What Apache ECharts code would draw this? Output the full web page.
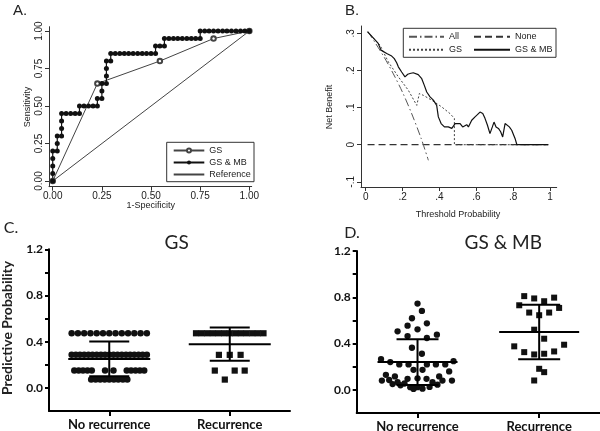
<!DOCTYPE html>
<html><head><meta charset="utf-8">
<script src="https://cdn.jsdelivr.net/npm/echarts@6/dist/echarts.min.js"></script>
<style>html,body{margin:0;padding:0;background:#fff}#c{width:600px;height:431px}</style>
</head><body><div id="c"></div>
<script>
// ---------- Panel A: ROC ----------
const aTicks = [0, 0.25, 0.5, 0.75, 1];
const rocRefX = [0, 1];
const rocRefY = [0, 1];
const rocGsX = [0, 0.227, 0.545, 0.818, 1];
const rocGsY = [0, 0.65, 0.80, 0.95, 1];
const rocMbX = [0,0,0,0,0,0.023,0.023,0.023,0.045,0.045,0.045,0.045,0.068,0.091,0.114,0.136,0.136,0.159,0.182,0.205,0.227,0.227,0.25,0.25,0.25,0.273,0.273,0.273,0.273,0.295,0.295,0.318,0.341,0.364,0.386,0.409,0.432,0.455,0.477,0.5,0.523,0.523,0.545,0.568,0.568,0.591,0.614,0.636,0.659,0.682,0.705,0.727,0.75,0.75,0.773,0.795,0.818,0.841,0.864,0.886,0.909,0.932,0.955,0.977,1];
const rocMbY = [0,0.05,0.1,0.15,0.2,0.2,0.25,0.3,0.3,0.35,0.4,0.45,0.45,0.45,0.45,0.45,0.5,0.5,0.5,0.5,0.5,0.55,0.55,0.6,0.65,0.65,0.7,0.75,0.8,0.8,0.85,0.85,0.85,0.85,0.85,0.85,0.85,0.85,0.85,0.85,0.85,0.9,0.9,0.9,0.95,0.95,0.95,0.95,0.95,0.95,0.95,0.95,0.95,1,1,1,1,1,1,1,1,1,1,1,1];

// ---------- Panel B: decision curve ----------
const bXTicks = [0, 0.2, 0.4, 0.6, 0.8, 1];
const bYTicks = [-0.1, 0, 0.1, 0.2, 0.3];
const bAllT = [0.01,0.05,0.1,0.15,0.2,0.25,0.3,0.34];
const bAllNB = [0.306,0.276,0.236,0.191,0.141,0.083,0.018,-0.042];
const bNoneT = [0.01, 0.99];
const bNoneNB = [0, 0];
const bGsT = [0.01,0.078,0.123,0.177,0.231,0.277,0.291,0.313,0.358,0.412,0.457,0.481,0.481,0.99];
const bGsNB = [0.304,0.268,0.223,0.183,0.147,0.106,0.138,0.133,0.12,0.102,0.084,0.071,0,0];
const bMbT = [0.011,0.068,0.083,0.114,0.141,0.155,0.168,0.177,0.195,0.213,0.228,0.24,0.258,0.285,0.304,0.318,0.331,0.349,0.367,0.385,0.394,0.409,0.427,0.448,0.467,0.485,0.49,0.512,0.526,0.548,0.557,0.575,0.593,0.606,0.62,0.635,0.647,0.66,0.674,0.687,0.696,0.707,0.72,0.732,0.743,0.756,0.765,0.779,0.792,0.81,0.82,0.99];
const bMbNB = [0.304,0.273,0.255,0.246,0.239,0.232,0.221,0.21,0.196,0.183,0.19,0.192,0.194,0.189,0.178,0.16,0.142,0.129,0.12,0.106,0.075,0.057,0.048,0.048,0.044,0.057,0.052,0.057,0.048,0.054,0.048,0.066,0.075,0.081,0.088,0.084,0.071,0.053,0.03,0.048,0.061,0.048,0.044,0.035,0.021,0.057,0.061,0.048,0.039,0.017,0,0];

// ---------- Panels C & D: dot plots ----------
const groups = ['No recurrence', 'Recurrence'];
const cdYTicks = [0, 0.2, 0.4, 0.6, 0.8, 1, 1.2];
const cdYLabels = [0, 0.4, 0.8, 1.2];

const cNoVal = [0.473,0.473,0.473,0.473,0.473,0.473,0.473,0.473,0.473,0.473,0.473,0.473,0.473,
  0.286,0.286,0.286,0.286,0.286,0.286,0.286,0.286,0.286,0.286,0.286,0.286,0.286,0.286,0.286,0.286,0.286,0.286,0.286,
  0.15,0.15,0.15,0.15,0.15,0.15,0.15,0.15,0.15,0.15,0.15,0.15,
  0.072,0.072,0.072,0.072,0.072,0.072,0.072,0.072,0.072];
const cNoJit = [-0.312,-0.26,-0.208,-0.156,-0.104,-0.052,0,0.052,0.104,0.156,0.208,0.26,0.312,
  -0.312,-0.277,-0.243,-0.208,-0.173,-0.139,-0.104,-0.069,-0.035,0,0.035,0.069,0.104,0.139,0.173,0.208,0.243,0.277,0.312,
  -0.29,-0.254,-0.218,-0.181,-0.145,-0.035,0.035,0.145,0.181,0.218,0.254,0.29,
  -0.15,-0.113,-0.075,-0.038,0,0.038,0.075,0.113,0.15];
const cRecVal = [0.473,0.473,0.473,0.473,0.473,0.473,0.473,0.473,0.473,0.473,0.473,0.473,0.473,
  0.286,0.286,0.286,0.15,0.15,0.15,0.072];
const cRecJit = [-0.28,-0.233,-0.187,-0.14,-0.093,-0.047,0,0.047,0.093,0.14,0.187,0.233,0.28,
  -0.09,0,0.09,-0.124,0.041,0.124,-0.041];
const cMean = [0.251, 0.378];
const cSd = [0.15, 0.144];

const dNoVal = [0.746,0.682,0.619,0.555,0.575,0.506,0.523,0.465,0.448,0.477,0.364,0.312,0.266,0.24,0.22,0.22,0.22,0.22,0.22,0.248,0.173,0.173,0.159,0.13,0.116,0.116,0.095,0.1,0.095,0.08,0.085,0.066,0.055,0.066,0.08,0.08,0.023,0.023,0.04,0.008,0.01,0.025,0.05,0.045];
const dNoJit = [0,0.036,-0.046,-0.082,0.077,-0.164,0,-0.082,0.077,0.159,-0.046,0.036,-0.30,-0.224,-0.15,-0.074,0.077,0.151,0.228,0.296,-0.033,0.041,0.26,-0.26,-0.186,0.178,-0.082,0,0.074,-0.293,-0.233,-0.164,-0.107,0.123,0.205,0.283,-0.06,0,-0.14,-0.033,0.041,0.099,-0.205,0.164];
const dRecVal = [0.81,0.79,0.766,0.797,0.731,0.708,0.668,0.645,0.668,0.52,0.442,0.376,0.39,0.326,0.306,0.312,0.332,0.182,0.153,0.081];
const dRecJit = [-0.123,-0.041,0.041,0.123,-0.164,0.164,-0.082,0,0.082,-0.041,0.041,-0.205,0.205,-0.123,-0.041,0.041,0.123,0,0.041,-0.041];
const dMean = [0.24, 0.50];
const dSd = [0.197, 0.236];

// ---------- helpers ----------
const zip = (xs, ys) => xs.map((x, i) => [x, ys[i]]);
const dots = (g, jit, vals) => vals.map((v, i) => [g + jit[i], v]);
const SANS = 'Liberation Sans, Arial, sans-serif';
const CAL = 'Lato, "Open Sans", sans-serif';
const AX = '#333';

function statAxisX(grid, min, max, ticks, fmt) {
  return { gridIndex: grid, type: 'value', min, max,
    axisLine: { onZero: false, lineStyle: { color: AX, width: 1 } },
    axisTick: { customValues: ticks, length: 4, lineStyle: { color: AX, width: 1 } },
    axisLabel: { customValues: ticks, formatter: fmt, fontFamily: SANS, fontSize: 10, color: '#222', margin: 5 },
    splitLine: { show: false } };
}
function statAxisY(grid, min, max, ticks, fmt) {
  return { gridIndex: grid, type: 'value', min, max,
    axisLine: { show: true, onZero: false, lineStyle: { color: AX, width: 1 } },
    axisTick: { show: true, customValues: ticks, length: 4, lineStyle: { color: AX, width: 1 } },
    axisLabel: { customValues: ticks, formatter: fmt, rotate: 90, fontFamily: SANS, fontSize: 10, color: '#222', margin: 5 },
    splitLine: { show: false } };
}
function dotAxisX(grid) {
  return { gridIndex: grid, type: 'value', min: 0.5, max: 2.5,
    axisLine: { onZero: false, lineStyle: { color: '#000', width: 2 } },
    axisTick: { customValues: [1, 2], length: 5, lineStyle: { color: '#000', width: 2 } },
    axisLabel: { customValues: [1, 2], formatter: v => groups[Math.round(v) - 1], fontFamily: CAL, fontWeight: 'bold', fontSize: 13, color: '#111', margin: 7 },
    splitLine: { show: false } };
}
function dotAxisY(grid) {
  return { gridIndex: grid, type: 'value', min: -0.2, max: 1.2,
    axisLine: { show: true, onZero: false, lineStyle: { color: '#000', width: 2 } },
    axisTick: { show: true, customValues: cdYTicks, length: 4, lineStyle: { color: '#000', width: 2 } },
    axisLabel: { customValues: cdYLabels, formatter: v => v.toFixed(1), fontFamily: CAL, fontWeight: 'bold', fontSize: 12, color: '#111', margin: 6 },
    splitLine: { show: false } };
}
function errRender(halfMean, halfCap) {
  return function (params, api) {
    const x = api.value(0), m = api.value(1), s = api.value(2);
    const pm = api.coord([x, m]), pt = api.coord([x, m + s]), pb = api.coord([x, m - s]);
    const st = { stroke: '#000', lineWidth: 2, fill: null };
    return { type: 'group', children: [
      { type: 'line', shape: { x1: pm[0] - halfMean, y1: pm[1], x2: pm[0] + halfMean, y2: pm[1] }, style: st },
      { type: 'line', shape: { x1: pt[0], y1: pt[1], x2: pb[0], y2: pb[1] }, style: st },
      { type: 'line', shape: { x1: pt[0] - halfCap, y1: pt[1], x2: pt[0] + halfCap, y2: pt[1] }, style: st },
      { type: 'line', shape: { x1: pb[0] - halfCap, y1: pb[1], x2: pb[0] + halfCap, y2: pb[1] }, style: st }
    ] };
  };
}
function txt(text, x, y, font, opts) {
  return Object.assign({ type: 'text', x, y, silent: true,
    style: { text, font, fill: '#222', textAlign: 'center', textVerticalAlign: 'middle' } }, opts || {});
}
const noMark = name => ({ name, itemStyle: { opacity: 0 } });

const chart = echarts.init(document.getElementById('c'), null, { renderer: 'canvas' });
chart.setOption({
  animation: false,
  backgroundColor: '#fff',
  grid: [
    { left: 49, right: 348.3, top: 26.7, bottom: 244.3, outerBoundsMode: 'none' },
    { left: 361, right: 43.3, top: 26, bottom: 244, outerBoundsMode: 'none' },
    { left: 49, right: 310, top: 249.3, bottom: 20, outerBoundsMode: 'none' },
    { left: 356.7, right: 0, top: 251, bottom: 18, outerBoundsMode: 'none' }
  ],
  xAxis: [
    statAxisX(0, -0.019, 1.012, aTicks, v => v.toFixed(2)),
    statAxisX(1, -0.0255, 1.036, bXTicks, v => (v === 0 ? '0' : v === 1 ? '1' : v.toFixed(1).replace('0.', '.'))),
    dotAxisX(2),
    dotAxisX(3)
  ],
  yAxis: [
    statAxisY(0, -0.038, 1.029, aTicks, v => v.toFixed(2)),
    statAxisY(1, -0.114, 0.32, bYTicks, v => (v === 0 ? '0' : v.toFixed(1).replace('0.', '.'))),
    dotAxisY(2),
    dotAxisY(3)
  ],
  legend: [
    { left: 172.7, top: 146, orient: 'vertical', padding: 0, itemWidth: 30.6, itemHeight: 5, itemGap: 3,
      data: ['GS', 'GS & MB', noMark('Reference')], selectedMode: false,
      textStyle: { fontFamily: SANS, fontSize: 9, color: '#222' } },
    { left: 408, top: 32.2, orient: 'vertical', padding: 0, itemWidth: 35, itemHeight: 8, itemGap: 4,
      data: [noMark('All'), noMark('GS (B)')], selectedMode: false, formatter: n => n.replace(' (B)', ''),
      textStyle: { fontFamily: SANS, fontSize: 9, color: '#222' } },
    { left: 473, top: 32.2, orient: 'vertical', padding: 0, itemWidth: 36, itemHeight: 8, itemGap: 4,
      data: [noMark('None'), noMark('GS & MB (B)')], selectedMode: false, formatter: n => n.replace(' (B)', ''),
      textStyle: { fontFamily: SANS, fontSize: 9, color: '#222' } }
  ],
  series: [
    // Panel A
    { name: 'Reference', type: 'line', xAxisIndex: 0, yAxisIndex: 0, data: zip(rocRefX, rocRefY), symbol: 'none',
      lineStyle: { color: '#444', width: 1 }, itemStyle: { color: '#444', opacity: 0 } },
    { name: 'GS', type: 'line', xAxisIndex: 0, yAxisIndex: 0, data: zip(rocGsX, rocGsY), symbol: 'emptyCircle', symbolSize: 4.5,
      lineStyle: { color: '#444', width: 1 }, itemStyle: { color: '#444', borderWidth: 1 } },
    { name: 'GS & MB', type: 'line', xAxisIndex: 0, yAxisIndex: 0, data: zip(rocMbX, rocMbY), symbol: 'circle', symbolSize: 5,
      lineStyle: { color: '#111', width: 1.2 }, itemStyle: { color: '#111' } },
    // Panel B
    { name: 'None', type: 'line', xAxisIndex: 1, yAxisIndex: 1, data: zip(bNoneT, bNoneNB), symbol: 'none',
      lineStyle: { color: '#333', width: 1.2, type: [7, 4] }, itemStyle: { color: '#333', opacity: 0 } },
    { name: 'All', type: 'line', xAxisIndex: 1, yAxisIndex: 1, data: zip(bAllT, bAllNB), symbol: 'none', smooth: 0.3,
      lineStyle: { color: '#555', width: 1, type: [8, 3, 1.5, 3] }, itemStyle: { color: '#555', opacity: 0 } },
    { name: 'GS (B)', type: 'line', xAxisIndex: 1, yAxisIndex: 1, data: zip(bGsT, bGsNB), symbol: 'none',
      lineStyle: { color: '#444', width: 1, type: [2, 2] }, itemStyle: { color: '#444', opacity: 0 } },
    { name: 'GS & MB (B)', type: 'line', xAxisIndex: 1, yAxisIndex: 1, data: zip(bMbT, bMbNB), symbol: 'none',
      lineStyle: { color: '#111', width: 1.2 }, itemStyle: { color: '#111', opacity: 0 } },
    // Panel C
    { type: 'scatter', xAxisIndex: 2, yAxisIndex: 2, data: dots(1, cNoJit, cNoVal), symbol: 'circle', symbolSize: 6.5, itemStyle: { color: '#111', opacity: 1 } },
    { type: 'scatter', xAxisIndex: 2, yAxisIndex: 2, data: dots(2, cRecJit, cRecVal), symbol: 'rect', symbolSize: 6.2, itemStyle: { color: '#111', opacity: 1 } },
    { type: 'custom', xAxisIndex: 2, yAxisIndex: 2, data: [[1, cMean[0], cSd[0]], [2, cMean[1], cSd[1]]],
      encode: { x: 0, y: 1 }, renderItem: errRender(41, 20), z: 5 },
    // Panel D
    { type: 'scatter', xAxisIndex: 3, yAxisIndex: 3, data: dots(1, dNoJit, dNoVal), symbol: 'circle', symbolSize: 6.3, itemStyle: { color: '#111', opacity: 1 } },
    { type: 'scatter', xAxisIndex: 3, yAxisIndex: 3, data: dots(2, dRecJit, dRecVal), symbol: 'rect', symbolSize: 6, itemStyle: { color: '#111', opacity: 1 } },
    { type: 'custom', xAxisIndex: 3, yAxisIndex: 3, data: [[1, dMean[0], dSd[0]], [2, dMean[1], dSd[1]]],
      encode: { x: 0, y: 1 }, renderItem: errRender(40, 21), z: 5 }
  ],
  graphic: [
    { type: 'rect', silent: true, shape: { x: 166.7, y: 142.3, width: 87.3, height: 39.4 }, style: { fill: null, stroke: '#333', lineWidth: 1 } },
    { type: 'rect', silent: true, shape: { x: 403.3, y: 28.3, width: 152.7, height: 29 }, style: { fill: null, stroke: '#333', lineWidth: 1 } },
    txt('A.', 20, 11, '15px ' + SANS),
    txt('B.', 352, 11, '15px ' + SANS),
    txt('Sensitivity', 28, 107, '9px ' + SANS, { rotation: Math.PI / 2 }),
    txt('1-Specificity', 150.7, 205.7, '9px ' + SANS),
    txt('Net Benefit', 330, 107, '9px ' + SANS, { rotation: Math.PI / 2 }),
    txt('Threshold Probability', 458, 215, '9px ' + SANS),
    txt('C.', 11, 228, '16px ' + CAL),
    txt('GS', 176.7, 243.3, '19px ' + CAL),
    txt('Predictive Probability', 7, 328, 'bold 14px ' + CAL, { rotation: Math.PI / 2 }),
    txt('D.', 352, 233, '16px ' + CAL),
    txt('GS & MB', 503.3, 243.3, '19px ' + CAL)
  ]
});
</script></body></html>
